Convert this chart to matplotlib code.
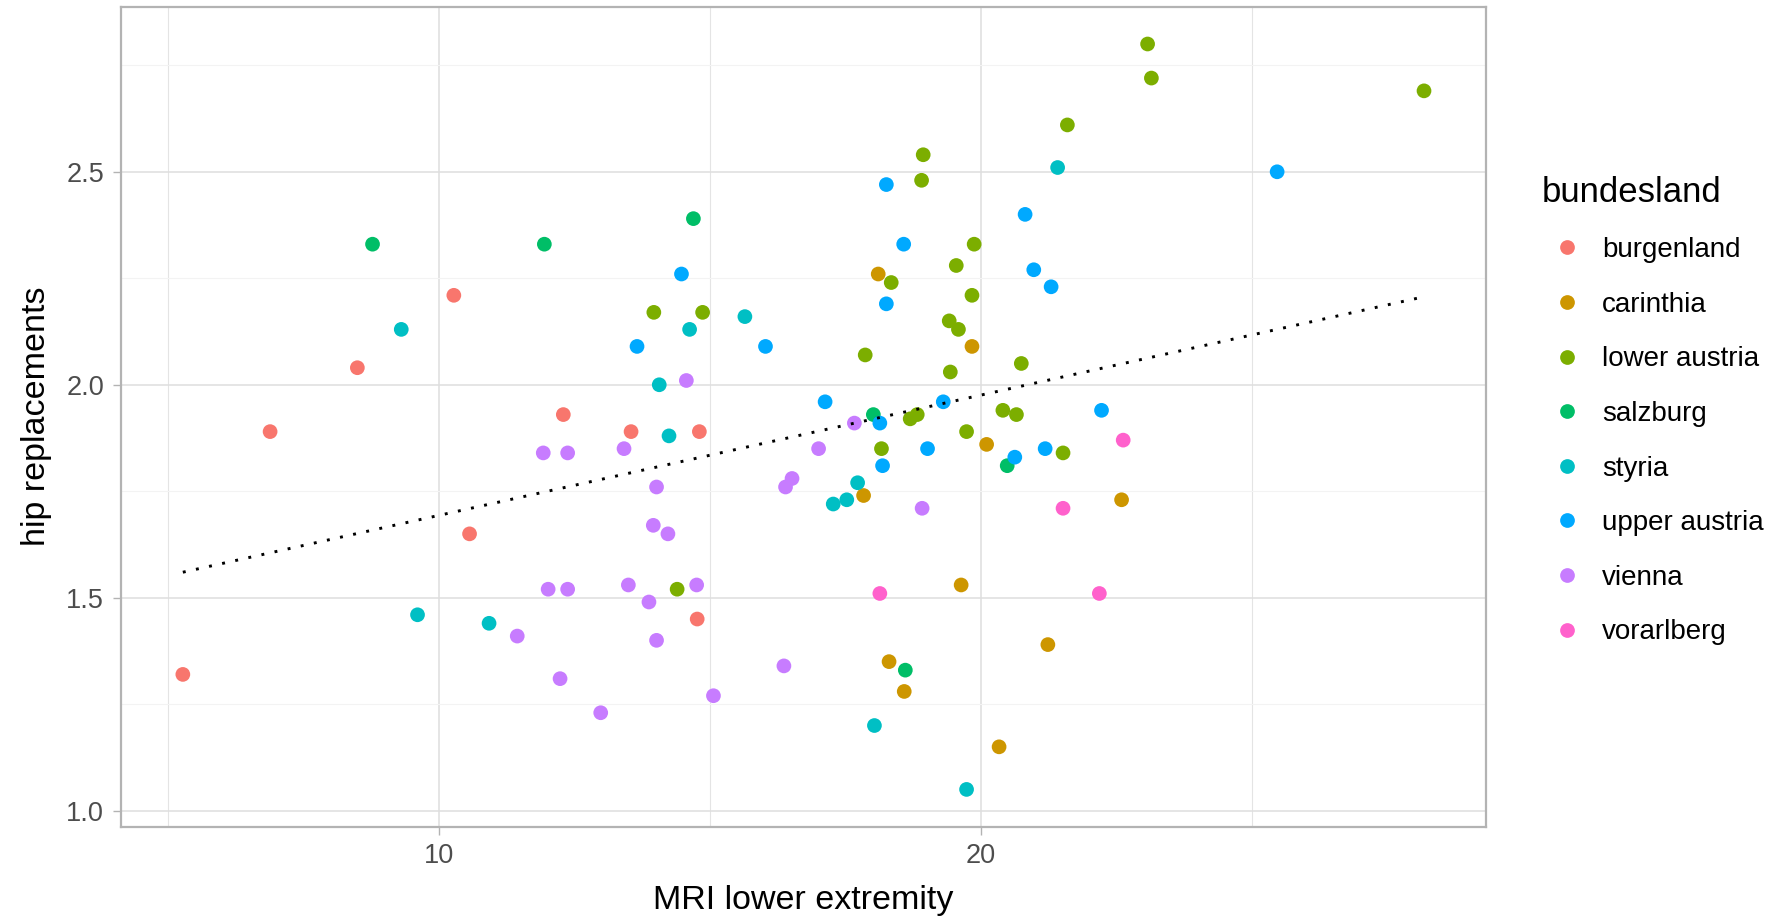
import numpy as np
import matplotlib
matplotlib.use("Agg")
import matplotlib.pyplot as plt
from matplotlib.lines import Line2D
from matplotlib.ticker import MultipleLocator

plt.rcParams['font.family'] = ['Liberation Sans', 'DejaVu Sans']

# MRI lower extremity (x) and hip replacements (y) per Bundesland
regions = ["burgenland", "carinthia", "lower austria", "salzburg",
           "styria", "upper austria", "vienna", "vorarlberg"]
colors = ["#F8766D", "#CD9600", "#7CAE00", "#00BE67",
          "#00BFC4", "#00A9FF", "#C77CFF", "#FF61CC"]

burgenland_x = [5.28, 6.89, 8.50, 10.28, 10.57, 12.30, 13.55, 14.81, 14.77]
burgenland_y = [1.32, 1.89, 2.04, 2.21, 1.65, 1.93, 1.89, 1.89, 1.45]

carinthia_x = [18.11, 19.84, 20.11, 17.84, 22.60, 19.64, 21.24, 18.31, 18.59, 20.34]
carinthia_y = [2.26, 2.09, 1.86, 1.74, 1.73, 1.53, 1.39, 1.35, 1.28, 1.15]

lower_austria_x = [21.60, 18.94, 18.91, 19.88, 19.55, 18.35, 19.84, 13.97, 14.87,
                   19.42, 19.59, 17.87, 20.75, 19.44, 20.41, 20.66, 18.70, 18.83,
                   19.74, 18.17, 21.52, 14.40, 23.08, 23.15, 28.18]
lower_austria_y = [2.61, 2.54, 2.48, 2.33, 2.28, 2.24, 2.21, 2.17, 2.17,
                   2.15, 2.13, 2.07, 2.05, 2.03, 1.94, 1.93, 1.92, 1.93,
                   1.89, 1.85, 1.84, 1.52, 2.80, 2.72, 2.69]

salzburg_x = [8.78, 11.95, 14.70, 18.02, 20.49, 18.61]
salzburg_y = [2.33, 2.33, 2.39, 1.93, 1.81, 1.33]

styria_x = [9.31, 9.61, 10.93, 21.42, 15.65, 14.63, 14.07, 14.25, 17.73, 17.53,
            17.28, 18.04, 19.74]
styria_y = [2.13, 1.46, 1.44, 2.51, 2.16, 2.13, 2.00, 1.88, 1.77, 1.73,
            1.72, 1.20, 1.05]

upper_austria_x = [18.26, 20.82, 18.58, 20.98, 14.48, 21.30, 18.26, 13.66, 16.03,
                   17.13, 19.31, 18.14, 19.02, 21.19, 20.63, 18.19, 25.47, 22.23]
upper_austria_y = [2.47, 2.40, 2.33, 2.27, 2.26, 2.23, 2.19, 2.09, 2.09,
                   1.96, 1.96, 1.91, 1.85, 1.85, 1.83, 1.81, 2.50, 1.94]

vienna_x = [11.93, 12.38, 12.02, 12.38, 11.45, 12.24, 12.99, 14.57, 17.67, 13.42,
            17.01, 14.02, 16.52, 16.40, 13.96, 14.23, 13.50, 14.76, 13.88, 14.02,
            16.37, 15.07, 18.92]
vienna_y = [1.84, 1.84, 1.52, 1.52, 1.41, 1.31, 1.23, 2.01, 1.91, 1.85,
            1.85, 1.76, 1.78, 1.76, 1.67, 1.65, 1.53, 1.53, 1.49, 1.40,
            1.34, 1.27, 1.71]

vorarlberg_x = [21.52, 22.63, 22.19, 18.14]
vorarlberg_y = [1.71, 1.87, 1.51, 1.51]

series_x = [burgenland_x, carinthia_x, lower_austria_x, salzburg_x,
            styria_x, upper_austria_x, vienna_x, vorarlberg_x]
series_y = [burgenland_y, carinthia_y, lower_austria_y, salzburg_y,
            styria_y, upper_austria_y, vienna_y, vorarlberg_y]

fig = plt.figure(figsize=(17.84, 9.21), dpi=100)
ax = fig.add_axes([0.0677, 0.1024, 0.833 - 0.0677, 0.9927 - 0.1024])

grid_major = "#DEDEDE"
border = "#B3B3B3"
marker_size = 112

for xs, ys, c in zip(series_x, series_y, colors):
    ax.scatter(xs, ys, s=marker_size, color=c, edgecolors="none", zorder=3)

# linear trend over all observations
all_x = np.concatenate([np.asarray(v, float) for v in series_x])
all_y = np.concatenate([np.asarray(v, float) for v in series_y])
slope, intercept = np.polyfit(all_x, all_y, 1)
line_x = np.array([all_x.min(), all_x.max()])
ax.plot(line_x, intercept + slope * line_x, color="black", lw=2.1,
        linestyle=(0, (1, 3.6)), zorder=4)

# limits with 5 % padding
xr = all_x.max() - all_x.min()
yr = all_y.max() - all_y.min()
ax.set_xlim(all_x.min() - 0.05 * xr, all_x.max() + 0.05 * xr)
ax.set_ylim(all_y.min() - 0.05 * yr, all_y.max() + 0.05 * yr)

ax.xaxis.set_major_locator(MultipleLocator(10))
ax.xaxis.set_minor_locator(MultipleLocator(5))
ax.yaxis.set_major_locator(MultipleLocator(0.5))
ax.yaxis.set_minor_locator(MultipleLocator(0.25))
ax.yaxis.set_major_formatter(matplotlib.ticker.FormatStrFormatter("%.1f"))

ax.set_axisbelow(True)
ax.grid(which="major", color=grid_major, lw=1.1)
ax.grid(which="minor", axis="x", color="#E4E4E4", lw=0.8)
ax.grid(which="minor", axis="y", color="#F3F3F3", lw=0.8)

for sp in ax.spines.values():
    sp.set_color(border)
    sp.set_linewidth(1.6)

ax.tick_params(which="major", length=6, width=1.0, color=border,
               labelsize=19.5, labelcolor="#4D4D4D", pad=6)
ax.tick_params(which="minor", length=0)

ax.set_xlabel("MRI lower extremity", fontsize=24.5, labelpad=11)
ax.set_ylabel("hip replacements", fontsize=24.5, labelpad=10)

handles = [Line2D([0], [0], marker="o", linestyle="none", markersize=10.6,
                  markerfacecolor=c, markeredgecolor="none") for c in colors]
leg = fig.legend(handles, regions, title="bundesland", loc="upper left",
                 bbox_to_anchor=(0.858, 0.8215), frameon=False, fontsize=20,
                 title_fontsize=25, handlelength=1.82, handletextpad=0.34,
                 labelspacing=1.03, borderaxespad=0)
leg._legend_box.align = "left"

fig.savefig("out.png", dpi=100)
